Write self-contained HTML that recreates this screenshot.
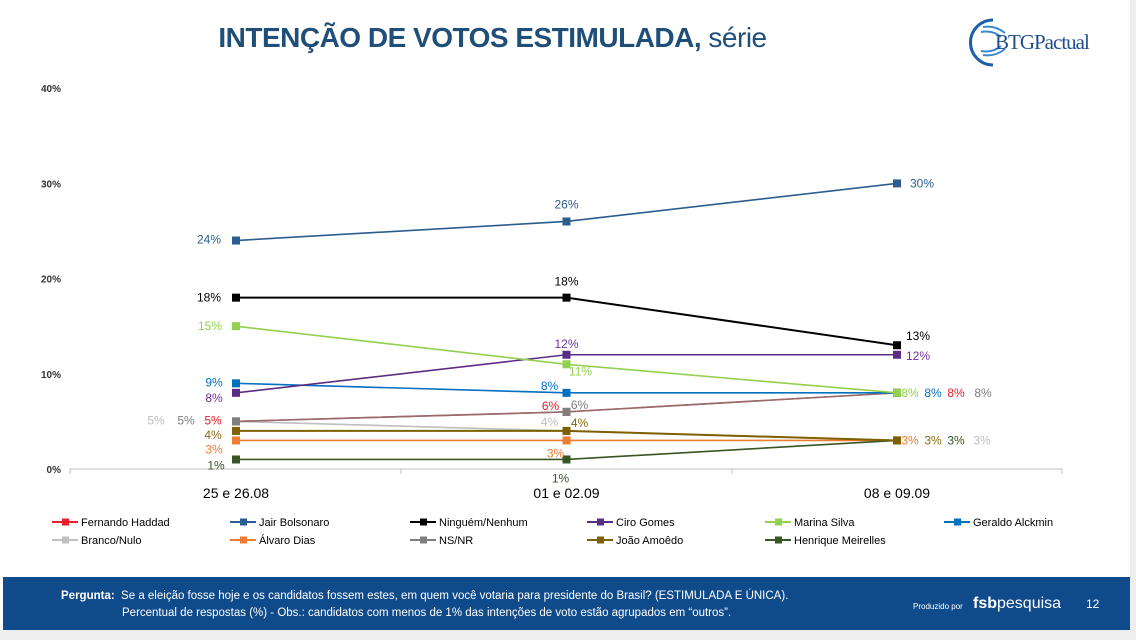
<!DOCTYPE html>
<html><head><meta charset="utf-8"><style>
body{margin:0;width:1136px;height:640px;background:#fff;font-family:"Liberation Sans",sans-serif;overflow:hidden;position:relative}
.title{position:absolute;left:0;width:985px;top:22px;text-align:center;font-size:28px;color:#1f4e79;letter-spacing:-0.5px}
.footer{position:absolute;left:3px;top:577px;width:1127px;height:53px;background:#0f4a8a;color:#fff;font-size:11.5px}
.rstrip{position:absolute;left:1130px;top:0;width:6px;height:640px;background:#eee}
.bstrip{position:absolute;left:0;top:630px;width:1136px;height:10px;background:#eee}
</style></head><body>
<div class="rstrip"></div>
<div class="bstrip"></div>
<div class="title"><b>INTENÇÃO DE VOTOS ESTIMULADA,</b> série</div>
<svg style="position:absolute;left:965px;top:15px" width="145" height="55">
<path d="M28 5 A22 22 0 1 0 28 50" fill="none" stroke="#1f5fa8" stroke-width="3"/>
<path d="M18 12 Q30 10 40 18 M16 17 Q28 15 36 22 M18 40 Q30 42 40 34 M16 36 Q28 38 36 31" fill="none" stroke="#3a8ad0" stroke-width="2"/>
<text x="30" y="34" font-size="21" fill="#1f4e8c" font-family="Liberation Serif, serif" letter-spacing="-1">BTGPactual</text>
</svg>
<svg id="chart" width="1136" height="570" style="position:absolute;left:0;top:0"></svg>
<div class="footer">
<div style="position:absolute;left:58px;top:13px"><b>Pergunta:</b>&nbsp; Se a eleição fosse hoje e os candidatos fossem estes, em quem você votaria para presidente do Brasil? (ESTIMULADA E ÚNICA).</div>
<div style="position:absolute;left:119px;top:30px">Percentual de respostas (%) - Obs.: candidatos com menos de 1% das intenções de voto estão agrupados em “outros”.</div>
<div style="position:absolute;left:910px;top:25px;font-size:8px">Produzido por</div>
<div style="position:absolute;left:970px;top:18px;font-size:16px"><b>fsb</b>pesquisa</div>
<div style="position:absolute;left:1083px;top:20px;font-size:12px">12</div>
</div>
<script>
const categories=["25 e 26.08","01 e 02.09","08 e 09.09"];
const seriesNames=["Fernando Haddad","Jair Bolsonaro","Ninguém/Nenhum","Ciro Gomes","Marina Silva","Geraldo Alckmin","Branco/Nulo","Álvaro Dias","NS/NR","João Amoêdo","Henrique Meirelles"];
const haddad=[5,6,8];
const bolsonaro=[24,26,30];
const ninguem=[18,18,13];
const ciro=[8,12,12];
const marina=[15,11,8];
const alckmin=[9,8,8];
const branco=[5,4,3];
const alvaro=[3,3,3];
const nsnr=[5,6,8];
const amoedo=[4,4,3];
const meirelles=[1,1,3];
const yTicks=[0,10,20,30,40];
const values=[haddad,bolsonaro,ninguem,ciro,marina,alckmin,branco,alvaro,nsnr,amoedo,meirelles];
const colors=["#e8202a","#2b5d8f","#000","#5b2c83","#92d050","#0070c0","#bfbfbf","#ed7d31","#7f7f7f","#7f6000","#375623"];
const labelColors=["#e8202a","#2b5d8f","#000","#7030a0","#92d050","#0070c0","#bfbfbf","#ed7d31","#7f7f7f","#8a6d10","#375623"];
const drawOrder=[6,7,10,9,0,8,5,3,4,2,1];
// label offsets [dx,dy] relative to each point (style only)
const off=[
 [[-23,3],[-16,-2],[59,4]],
 [[-27,3],[0,-13],[25,4]],
 [[-27,4],[0,-12],[21,-5]],
 [[-22,9],[0,-7],[21,5]],
 [[-26,4],[14,11],[13,4]],
 [[-22,3],[-17,-3],[36,4]],
 [[-80,3],[-17,-5],[85,4]],
 [[-22,13],[-11,17],[13,4]],
 [[-50,3],[13,-3],[86,4]],
 [[-23,8],[13,-4],[36,4]],
 [[-20,10],[-6,23],[59,4]]
];
const NS="http://www.w3.org/2000/svg";
const svg=document.getElementById('chart');
const x0=236,dxC=330.5,y0=469,pp=9.52;
function xs(i){return x0+i*dxC;}
function ys(v){return y0-v*pp;}
function mk(t,a,txt){const e=document.createElementNS(NS,t);for(const k in a)e.setAttribute(k,a[k]);if(txt!==undefined)e.textContent=txt;svg.appendChild(e);return e;}
let ax=mk('line',{x1:70,x2:1062,y1:y0,y2:y0,stroke:'#bfbfbf','stroke-width':1});


[70,401,732,1062].forEach(x=>{const t=mk('line',{x1:x,x2:x,y1:y0,y2:y0+5,stroke:'#bfbfbf'});

});
yTicks.forEach(v=>{const t=mk('text',{x:61,y:ys(v)+4,'text-anchor':'end','font-size':10,'font-weight':'bold',fill:'#333'},v+'%');

});
categories.forEach((c,i)=>{const t=mk('text',{x:xs(i),y:498,'text-anchor':'middle','font-size':14,fill:'#000'},c);

});
drawOrder.forEach(s=>{
 const d=values[s];
 const pts=d.map((v,i)=>xs(i)+','+ys(v)).join(' ');
 const w=(s==9||s==2)?2:1.6;
 const pl=mk('polyline',{points:pts,fill:'none',stroke:colors[s],'stroke-width':w});
 if(s==8)pl.setAttribute('stroke-opacity','0.8');
 
 
 d.forEach((v,i)=>{const r=mk('rect',{x:xs(i)-4,y:ys(v)-4,width:8,height:8,fill:colors[s]});
 
 });
});
values.forEach((d,s)=>d.forEach((v,i)=>{
 const t=mk('text',{x:xs(i)+off[s][i][0],y:ys(v)+off[s][i][1],'text-anchor':'middle','font-size':12,fill:labelColors[s]},v+'%');
 
 
}));
const lx=[52,230,410,587,765,944];
seriesNames.forEach((n,i)=>{
 const x=lx[i%6],y=i<6?522:540;
 const l=mk('line',{x1:x,x2:x+26,y1:y,y2:y,stroke:colors[i],'stroke-width':2});
 
 
 const r=mk('rect',{x:x+10,y:y-3.5,width:7,height:7,fill:colors[i]});
 
 
 const t=mk('text',{x:x+29,y:y+4,'font-size':11,fill:'#000'},n);
 
 
});
</script>
</body></html>
